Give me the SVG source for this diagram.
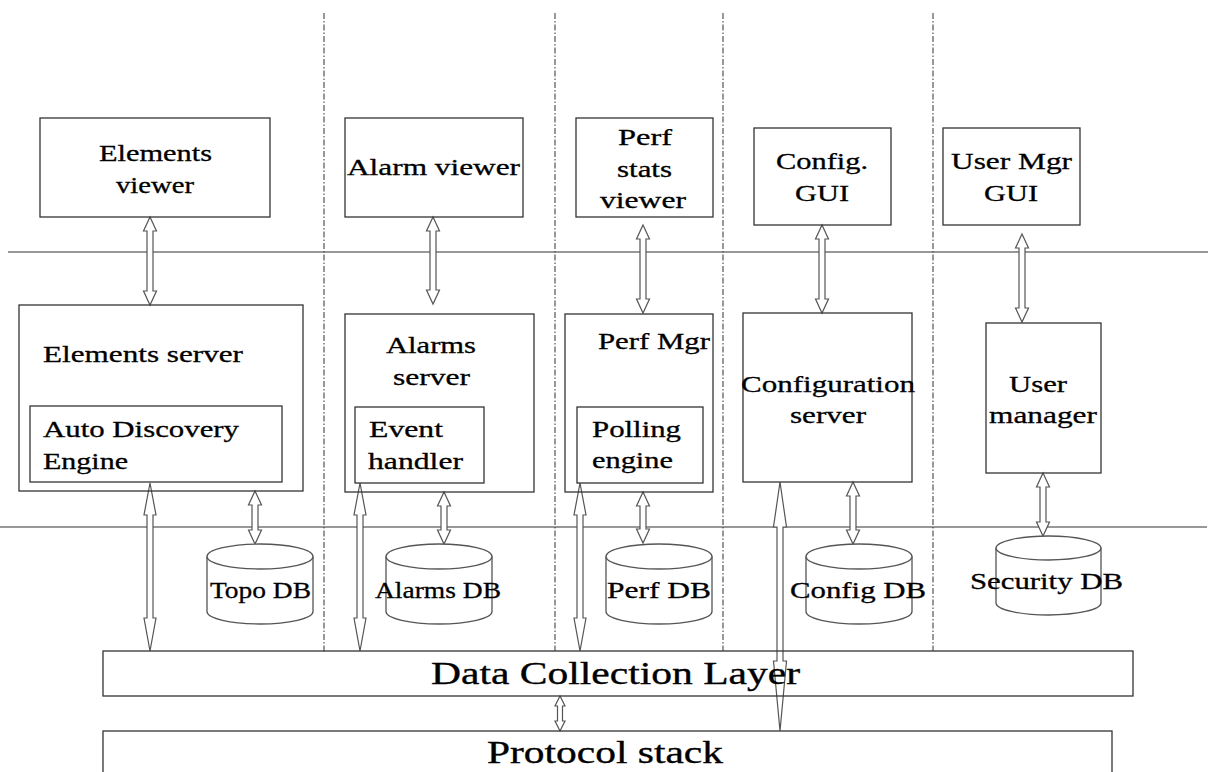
<svg xmlns="http://www.w3.org/2000/svg" width="1208" height="772" viewBox="0 0 1208 772" font-family="'Liberation Serif', 'Times New Roman', Times, serif">
<style>
.box{fill:none;stroke:#333;stroke-width:1.3}
.sep{stroke:#333;stroke-width:1.2;fill:none}
.dash{stroke:#444;stroke-width:1.1;stroke-dasharray:6 2 1.5 2;fill:none}
.arr{fill:#fff;stroke:#555;stroke-width:1.2;stroke-linejoin:miter}
.db{fill:#fff;stroke:#555;stroke-width:1.3}
.t{font-size:24px;fill:#000;stroke:#000;stroke-width:0.3}
.big{font-size:31px;fill:#000;stroke:#000;stroke-width:0.35}
</style>
<rect width="1208" height="772" fill="#fff"/>
<g id="separators">
<line class="sep" x1="8" y1="252" x2="1208" y2="252"/>
<line class="sep" x1="0" y1="527" x2="1207" y2="527"/>
<line class="dash" x1="324" y1="13" x2="324" y2="653"/>
<line class="dash" x1="555" y1="13" x2="555" y2="651"/>
<line class="dash" x1="723" y1="13" x2="723" y2="651"/>
<line class="dash" x1="933" y1="13" x2="933" y2="651"/>
</g>
<g id="connectors">
<path class="arr" d="M150,217 L156.5,231 L153,231 L153,291 L156.5,291 L150,305 L143.5,291 L147,291 L147,231 L143.5,231 Z"/>
<path class="arr" d="M433,217 L439.5,231 L436,231 L436,290 L439.5,290 L433,304 L426.5,290 L430,290 L430,231 L426.5,231 Z"/>
<path class="arr" d="M643,225 L649.5,239 L646,239 L646,299 L649.5,299 L643,313 L636.5,299 L640,299 L640,239 L636.5,239 Z"/>
<path class="arr" d="M822,225 L828.5,239 L825,239 L825,299 L828.5,299 L822,313 L815.5,299 L819,299 L819,239 L815.5,239 Z"/>
<path class="arr" d="M1022,234 L1028.5,248 L1025,248 L1025,308 L1028.5,308 L1022,322 L1015.5,308 L1019,308 L1019,248 L1015.5,248 Z"/>
<path class="arr" d="M150,483 L156,515 L153,515 L153,618 L156,618 L150,651 L144,618 L147,618 L147,515 L144,515 Z"/>
<path class="arr" d="M255,491 L261.5,505 L258,505 L258,530 L261.5,530 L255,544 L248.5,530 L252,530 L252,505 L248.5,505 Z"/>
<path class="arr" d="M360,483 L366,515 L363,515 L363,618 L366,618 L360,651 L354,618 L357,618 L357,515 L354,515 Z"/>
<path class="arr" d="M444,492 L450.5,506 L447,506 L447,530 L450.5,530 L444,544 L437.5,530 L441,530 L441,506 L437.5,506 Z"/>
<path class="arr" d="M580,483 L586,515 L583,515 L583,618 L586,618 L580,651 L574,618 L577,618 L577,515 L574,515 Z"/>
<path class="arr" d="M643,492 L649.5,506 L646,506 L646,529 L649.5,529 L643,543 L636.5,529 L640,529 L640,506 L636.5,506 Z"/>
<path class="arr" d="M780,482 L786.5,527 L783,527 L783,661 L786.5,661 L780,731 L773.5,661 L777,661 L777,527 L773.5,527 Z"/>
<path class="arr" d="M853,482 L859.5,496 L856,496 L856,530 L859.5,530 L853,544 L846.5,530 L850,530 L850,496 L846.5,496 Z"/>
<path class="arr" d="M1043,473 L1049.5,487 L1046,487 L1046,522 L1049.5,522 L1043,536 L1036.5,522 L1040,522 L1040,487 L1036.5,487 Z"/>
<path class="arr" d="M560,696 L565,706 L562.5,706 L562.5,721 L565,721 L560,731 L555,721 L557.5,721 L557.5,706 L555,706 Z"/>
</g>
<g id="elements-viewer">
<rect class="box" x="40" y="118" width="230" height="99"/>
<text class="t" x="99" y="161" textLength="113" lengthAdjust="spacingAndGlyphs">Elements</text>
<text class="t" x="116" y="193" textLength="78" lengthAdjust="spacingAndGlyphs">viewer</text>
</g>
<g id="alarm-viewer">
<rect class="box" x="345" y="118" width="178" height="99"/>
<text class="t" x="347" y="175" textLength="173" lengthAdjust="spacingAndGlyphs">Alarm viewer</text>
</g>
<g id="perf-stats-viewer">
<rect class="box" x="576" y="118" width="137" height="99"/>
<text class="t" x="618" y="145" textLength="54" lengthAdjust="spacingAndGlyphs">Perf</text>
<text class="t" x="617" y="177" textLength="55" lengthAdjust="spacingAndGlyphs">stats</text>
<text class="t" x="600" y="208" textLength="86" lengthAdjust="spacingAndGlyphs">viewer</text>
</g>
<g id="config-gui">
<rect class="box" x="754" y="128" width="137" height="97"/>
<text class="t" x="776" y="169" textLength="92" lengthAdjust="spacingAndGlyphs">Config.</text>
<text class="t" x="795" y="201" textLength="54" lengthAdjust="spacingAndGlyphs">GUI</text>
</g>
<g id="user-mgr-gui">
<rect class="box" x="943" y="128" width="137" height="97"/>
<text class="t" x="951" y="169" textLength="121" lengthAdjust="spacingAndGlyphs">User Mgr</text>
<text class="t" x="984" y="201" textLength="54" lengthAdjust="spacingAndGlyphs">GUI</text>
</g>
<g id="elements-server">
<rect class="box" x="19" y="305" width="284" height="186"/>
<text class="t" x="43" y="362" textLength="200" lengthAdjust="spacingAndGlyphs">Elements server</text>
</g>
<g id="auto-discovery-engine">
<rect class="box" x="30" y="406" width="252" height="76"/>
<text class="t" x="43" y="437" textLength="196" lengthAdjust="spacingAndGlyphs">Auto Discovery</text>
<text class="t" x="43" y="469" textLength="85" lengthAdjust="spacingAndGlyphs">Engine</text>
</g>
<g id="alarms-server">
<rect class="box" x="345" y="314" width="189" height="178"/>
<text class="t" x="386" y="353" textLength="90" lengthAdjust="spacingAndGlyphs">Alarms</text>
<text class="t" x="393" y="385" textLength="77" lengthAdjust="spacingAndGlyphs">server</text>
</g>
<g id="event-handler">
<rect class="box" x="355" y="407" width="129" height="76"/>
<text class="t" x="369" y="437" textLength="74" lengthAdjust="spacingAndGlyphs">Event</text>
<text class="t" x="368" y="469" textLength="95" lengthAdjust="spacingAndGlyphs">handler</text>
</g>
<g id="perf-mgr">
<rect class="box" x="565" y="314" width="148" height="178"/>
<text class="t" x="598" y="349" textLength="112" lengthAdjust="spacingAndGlyphs">Perf Mgr</text>
</g>
<g id="polling-engine">
<rect class="box" x="577" y="407" width="126" height="76"/>
<text class="t" x="592" y="437" textLength="89" lengthAdjust="spacingAndGlyphs">Polling</text>
<text class="t" x="592" y="468" textLength="81" lengthAdjust="spacingAndGlyphs">engine</text>
</g>
<g id="configuration-server">
<rect class="box" x="743" y="313" width="169" height="169"/>
<text class="t" x="741" y="392" textLength="174" lengthAdjust="spacingAndGlyphs">Configuration</text>
<text class="t" x="790" y="423" textLength="76" lengthAdjust="spacingAndGlyphs">server</text>
</g>
<g id="user-manager">
<rect class="box" x="986" y="323" width="115" height="150"/>
<text class="t" x="1009" y="392" textLength="58" lengthAdjust="spacingAndGlyphs">User</text>
<text class="t" x="989" y="423" textLength="108" lengthAdjust="spacingAndGlyphs">manager</text>
</g>
<g id="topo-db">
<path class="db" d="M207,556.5 L207,611.5 A53,12.5 0 0 0 313,611.5 L313,556.5"/>
<ellipse class="db" cx="260" cy="556.5" rx="53" ry="12.5"/>
<text class="t" x="210" y="598" textLength="101" lengthAdjust="spacingAndGlyphs">Topo DB</text>
</g>
<g id="alarms-db">
<path class="db" d="M386,556.5 L386,611.5 A53,12.5 0 0 0 492,611.5 L492,556.5"/>
<ellipse class="db" cx="439" cy="556.5" rx="53" ry="12.5"/>
<text class="t" x="375" y="598" textLength="126" lengthAdjust="spacingAndGlyphs">Alarms DB</text>
</g>
<g id="perf-db">
<path class="db" d="M606,556.5 L606,611.5 A53,12.5 0 0 0 712,611.5 L712,556.5"/>
<ellipse class="db" cx="659" cy="556.5" rx="53" ry="12.5"/>
<text class="t" x="607" y="598" textLength="104" lengthAdjust="spacingAndGlyphs">Perf DB</text>
</g>
<g id="config-db">
<path class="db" d="M806,556.5 L806,611.5 A53,12.5 0 0 0 912,611.5 L912,556.5"/>
<ellipse class="db" cx="859" cy="556.5" rx="53" ry="12.5"/>
<text class="t" x="790" y="598" textLength="136" lengthAdjust="spacingAndGlyphs">Config DB</text>
</g>
<g id="security-db">
<path class="db" d="M996,548 L996,603 A52.5,12 0 0 0 1101,603 L1101,548"/>
<ellipse class="db" cx="1048.5" cy="548" rx="52.5" ry="12"/>
<text class="t" x="970" y="589" textLength="153" lengthAdjust="spacingAndGlyphs">Security DB</text>
</g>
<g id="data-collection-layer">
<rect class="box" x="103" y="651" width="1030" height="45"/>
<text class="big" x="431" y="684" textLength="369" lengthAdjust="spacingAndGlyphs">Data Collection Layer</text>
</g>
<g id="protocol-stack">
<rect class="box" x="103" y="731" width="1009" height="60"/>
<text class="big" x="487" y="763" textLength="236" lengthAdjust="spacingAndGlyphs">Protocol stack</text>
</g>
</svg>
